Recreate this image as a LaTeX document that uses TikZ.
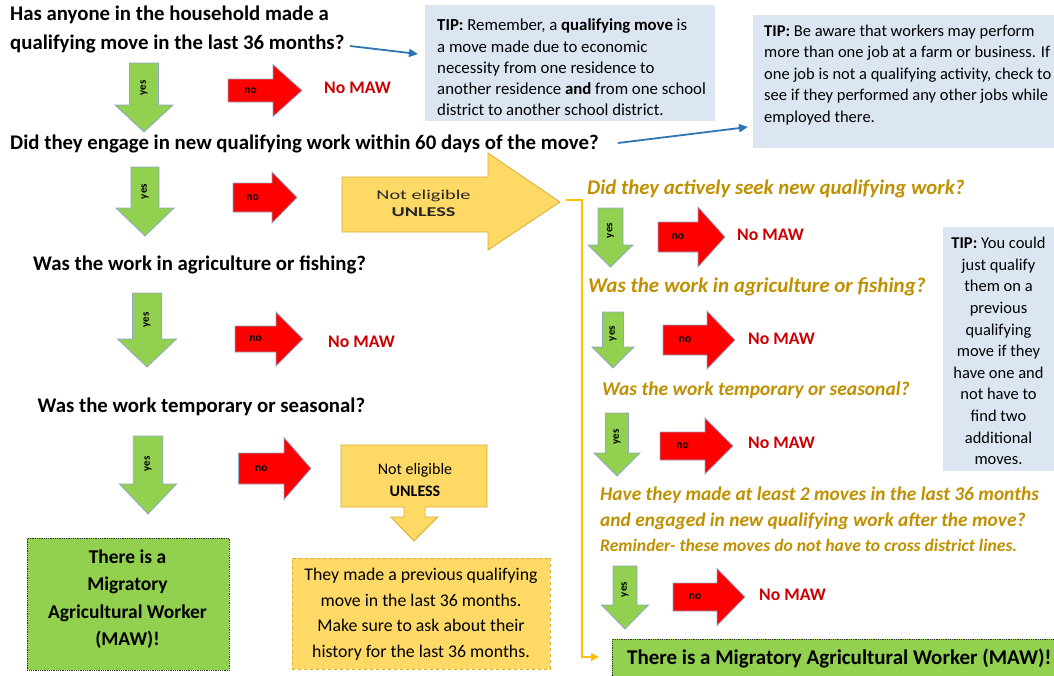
\documentclass[tikz,border=0pt]{standalone}
\usepackage{fontspec}
\setmainfont{Carlito}
\usetikzlibrary{arrows.meta}
\definecolor{argreen}{HTML}{92D050}
\definecolor{arred}{HTML}{FF0000}
\definecolor{arline}{HTML}{8FA8C8}
\definecolor{tipblue}{HTML}{DCE6F2}
\definecolor{gold}{HTML}{FFD966}
\definecolor{goldline}{HTML}{D9AD2E}
\definecolor{qgold}{HTML}{BF9000}
\definecolor{mawred}{HTML}{CC0000}
\definecolor{arrowblue}{HTML}{2E75B6}
\definecolor{connorange}{HTML}{FFC000}
\newcommand{\downarr}[7]{%
  \path[downarrstyle] ({#2-#4/2},#3) -- ({#2+#4/2},#3) -- ({#2+#4/2},#6) -- ({#2+#5/2},#6) -- (#2,#7) -- ({#2-#5/2},#6) -- ({#2-#4/2},#6) -- cycle;
  \node[yeslabel] (#1) at (#2,{(#3+#6)/2+4}) {yes};
}
\newcommand{\rightarr}[7]{%
  \path[rightarrstyle] (#2,{#3-#4}) -- (#5,{#3-#4}) -- (#5,{#3-#6}) -- (#7,#3) -- (#5,{#3+#6}) -- (#5,{#3+#4}) -- (#2,{#3+#4}) -- cycle;
  \node[nolabel] (#1) at ({(#2+#5)/2},#3) {no};
}
\tikzset{
  heading/.style={font=\fontsize{20.8}{29}\selectfont\bfseries, anchor=west, inner sep=0, align=left},
  rq/.style={text=qgold, anchor=west, inner sep=0, align=left},
  nomaw/.style={font=\fontsize{17.7}{20}\selectfont\bfseries, text=mawred, anchor=west, inner sep=0},
  tipbox/.style={fill=tipblue, draw=none, inner sep=0, anchor=north west},
  tiptext/.style={font=\fontsize{16.5}{21.5}\selectfont, inner sep=0, align=left, anchor=west},
  yeslabel/.style={font=\fontsize{11}{12}\selectfont\bfseries, rotate=90, inner sep=0},
  nolabel/.style={font=\fontsize{11.5}{12}\selectfont\bfseries, inner sep=0},
  downarrstyle/.style={fill=argreen, draw=arline, line width=0.8},
  rightarrstyle/.style={fill=arred, draw=arline, line width=0.8},
  tipline/.style={draw=arrowblue, line width=1.8, -{Triangle[length=9,width=8]}},
  conn/.style={draw=connorange, line width=1.3, -{Triangle[length=8,width=8]}},
  greenbox/.style={fill=argreen, draw=black!80, densely dotted, line width=0.8, inner sep=0, anchor=north west},
  boxtext/.style={inner sep=0, align=center},
}
\begin{document}
\begin{tikzpicture}[x=1pt,y=-1pt]
\useasboundingbox (0,0) rectangle (1054,675);
\fill[white] (0,0) rectangle (1054,675);

% ---- tip boxes
\node[tipbox, minimum width=290, minimum height=116] (tip1) at (425,5) {};
\node[tiptext, font=\fontsize{16.8}{21.3}\selectfont] (tip1text) at (437,67.5) {\textbf{TIP:} Remember, a \textbf{qualifying move} is\\a move made due to economic\\necessity from one residence to\\another residence \textbf{and} from one school\\district to another school district.};
\node[tipbox, minimum width=301, minimum height=133] (tip2) at (753,15) {};
\node[tiptext] (tip2text) at (764,75) {\textbf{TIP:} Be aware that workers may perform\\more than one job at a farm or business. If\\one job is not a qualifying activity, check to\\see if they performed any other jobs while\\employed there.};
\node[tipbox, minimum width=111, minimum height=244] (tip3) at (943,227) {};
\node[tiptext, font=\fontsize{16.5}{21.6}\selectfont, anchor=center, align=center] (tip3text) at (998.5,351) {\textbf{TIP:} You could\\just qualify\\them on a\\previous\\qualifying\\move if they\\have one and\\not have to\\find two\\additional\\moves.};

% ---- left column headings
\node[heading] (q1) at (10,29.5) {Has anyone in the household made a\\qualifying move in the last 36 months?};
\node[heading] (q2) at (10,144) {Did they engage in new qualifying work within 60 days of the move?};
\node[heading] (q3) at (33,265) {Was the work in agriculture or fishing?};
\node[heading] (q4) at (37.5,407) {Was the work temporary or seasonal?};

% ---- blue tip arrows
\coordinate (b1s) at (350,46);
\coordinate (b1e) at (418,54);
\draw[tipline] (b1s) -- (b1e);
\coordinate (b2s) at (618,143);
\coordinate (b2e) at (748,127);
\draw[tipline] (b2s) -- (b2e);

% ---- left arrows
\downarr{y1}{144}{63}{29}{58}{105}{132}
\rightarr{n1}{228}{90.5}{11.5}{273}{26}{302}
\node[nomaw] (m1) at (324,88) {No MAW};

\downarr{y2}{145}{167}{28}{58}{208}{236}
\rightarr{n2}{233}{197.5}{14.5}{272}{25.5}{297}

\downarr{y3}{147}{293}{29}{59}{339}{367}
\rightarr{n3}{235}{339}{13}{276}{27}{303}
\node[nomaw] (m3) at (328,342) {No MAW};

\downarr{y4}{148}{436}{29.5}{57}{484}{514}
\rightarr{n4}{238.6}{468.5}{15.5}{284}{31}{311}

% ---- big yellow arrow
\path[fill=gold, draw=goldline, line width=0.8] (342,177) -- (488,177) -- (488,153) -- (560,202) -- (488,250) -- (488,232) -- (342,232) -- cycle;
\node[boxtext, font=\fontsize{13.5}{17.5}\selectfont, text=black!85, xscale=1.5, transform shape] (ne1) at (423.5,203.5) {Not eligible\\\textbf{UNLESS}};

% ---- callout
\path[fill=gold, draw=goldline, line width=0.9] (341,445) -- (487,445) -- (487,507) -- (425,507) -- (425,517) -- (438,517) -- (414,541) -- (391,517) -- (404,517) -- (404,507) -- (341,507) -- cycle;
\node[boxtext, font=\fontsize{16}{22.5}\selectfont] (ne2) at (415,480) {Not eligible\\\textbf{UNLESS}};

% ---- bottom left boxes
\node[greenbox, minimum width=202, minimum height=132] (maw1) at (27,538) {};
\node[boxtext, font=\fontsize{19.5}{27.3}\selectfont\bfseries] (maw1text) at (127.5,599) {There is a\\Migratory\\Agricultural Worker\\(MAW)!};
\node[fill=gold, draw=goldline, dashed, line width=0.9, inner sep=0, anchor=north west, minimum width=258, minimum height=111.5] (prev) at (292,557.5) {};
\node[boxtext, font=\fontsize{17.8}{25.5}\selectfont] (prevtext) at (421,614) {They made a previous qualifying\\move in the last 36 months.\\Make sure to ask about their\\history for the last 36 months.};

% ---- right column
\node[rq, font=\fontsize{20.8}{26}\selectfont\bfseries\itshape] (r1) at (587,189) {Did they actively seek new qualifying work?};
\downarr{ry1}{610.5}{208}{25}{45}{245}{267}
\rightarr{rn1}{658}{237}{15}{698}{30}{725}
\node[nomaw] (rm1) at (737,235) {No MAW};

\node[rq, font=\fontsize{21}{26}\selectfont\bfseries\itshape] (r2) at (588,287) {Was the work in agriculture or fishing?};
\downarr{ry2}{613}{312}{21}{42}{347}{368}
\rightarr{rn2}{663}{340}{15}{707}{29}{735}
\node[nomaw] (rm2) at (748,339) {No MAW};

\node[rq, font=\fontsize{19.5}{26}\selectfont\bfseries\itshape] (r3) at (602,390) {Was the work temporary or seasonal?};
\downarr{ry3}{617}{413}{23}{46}{453}{476}
\rightarr{rn3}{660}{446}{14}{705}{28}{733}
\node[nomaw] (rm3) at (748,443) {No MAW};

\node[rq, font=\fontsize{19.4}{26}\selectfont\bfseries\itshape] (r4) at (600,508) {Have they made at least 2 moves in the last 36 months\\and engaged in new qualifying work after the move?};
\node[rq, font=\fontsize{17.6}{18}\selectfont\bfseries\itshape] (r4note) at (600,545) {Reminder- these moves do not have to cross district lines.};
\downarr{ry4}{625}{566}{24}{47}{605}{629}
\rightarr{rn4}{673}{597}{14}{717}{28.5}{745}
\node[nomaw] (rm4) at (759,595) {No MAW};

% ---- final banner
\node[greenbox, minimum width=450, minimum height=45] (maw2) at (612,639) {};
\node[anchor=west, inner sep=0, font=\fontsize{21}{22}\selectfont\bfseries] (maw2text) at (627,658) {There is a Migratory Agricultural Worker (MAW)!};

% ---- orange connector
\coordinate (c1) at (566,200);
\coordinate (c2) at (599,657);
\draw[conn] (c1) -- ++(16,0) |- (c2);
\end{tikzpicture}
\end{document}
